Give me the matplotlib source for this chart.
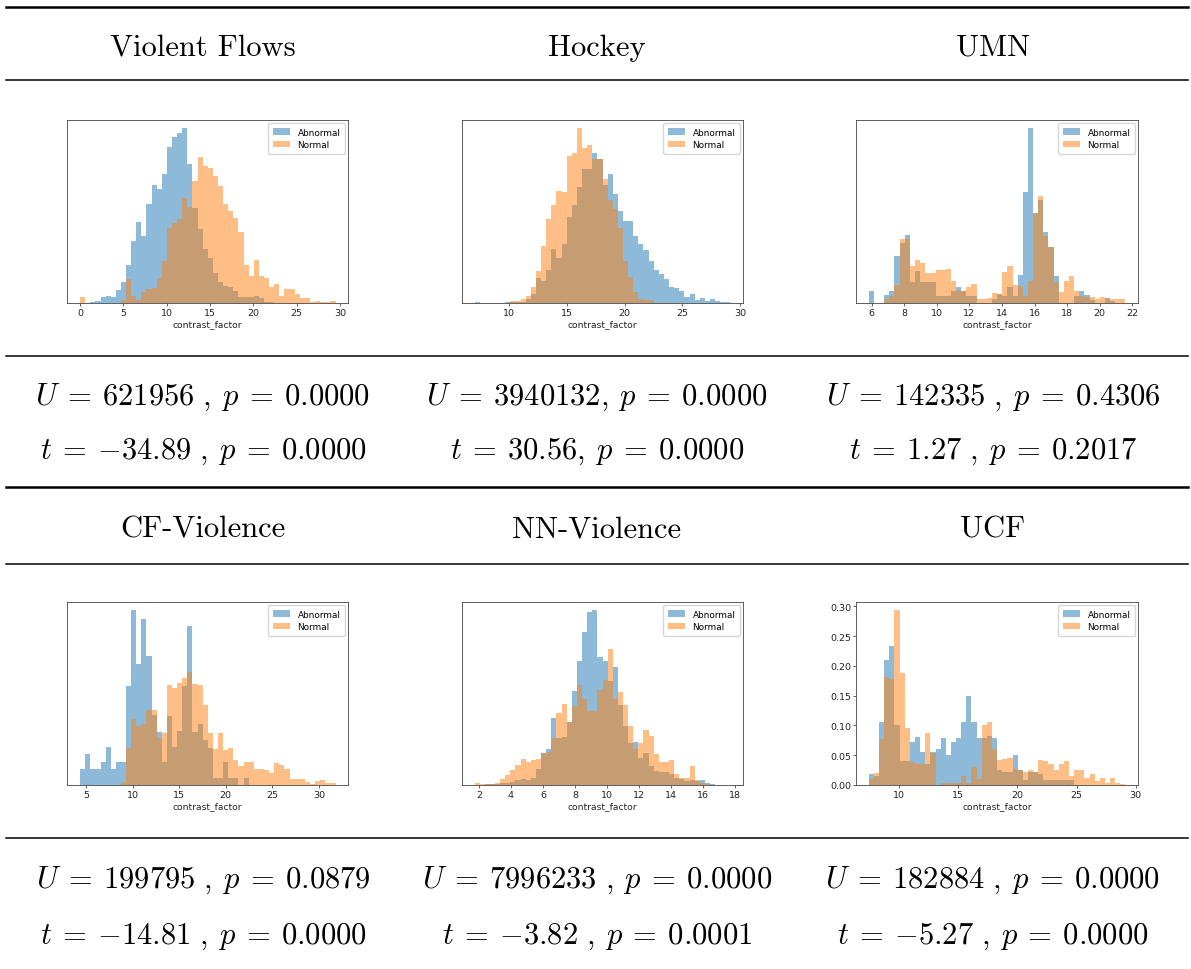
import numpy as np
import matplotlib
matplotlib.use("Agg")
import matplotlib.pyplot as plt
from matplotlib.lines import Line2D
from matplotlib.ticker import MultipleLocator, FormatStrFormatter

plt.rcParams['mathtext.fontset'] = 'cm'

# ---------------- data ----------------
titles = ["Violent Flows", "Hockey", "UMN", "CF-Violence", "NN-Violence", "UCF"]

stats_U = [r"$U\:=\:621956\ ,\:p\:=\:0.0000$",
           r"$U\:=\:3940132,\:p\:=\:0.0000$",
           r"$U\:=\:142335\ ,\:p\:=\:0.4306$",
           r"$U\:=\:199795\ ,\:p\:=\:0.0879$",
           r"$U\:=\:7996233\ ,\:p\:=\:0.0000$",
           r"$U\:=\:182884\ ,\:p\:=\:0.0000$"]
stats_t = [r"$t\:=\:{-}34.89\ ,\:p\:=\:0.0000$",
           r"$t\:=\:30.56,\:p\:=\:0.0000$",
           r"$t\:=\:1.27\ ,\:p\:=\:0.2017$",
           r"$t\:=\:{-}14.81\ ,\:p\:=\:0.0000$",
           r"$t\:=\:{-}3.82\ ,\:p\:=\:0.0001$",
           r"$t\:=\:{-}5.27\ ,\:p\:=\:0.0000$"]

# histogram bin ranges (contrast_factor), 50 bins each
vf_range = (0.0, 29.5)
hockey_range = (7.0, 29.18)
umn_range = (5.83, 21.58)
cf_range = (4.37, 31.78)
nn_range = (1.72, 17.72)
ucf_range = (7.48, 29.13)

vf_abnormal = [0, 0, 2, 5, 17, 22, 19, 39, 62, 115, 185, 244, 200, 299, 355, 342, 387, 470, 500, 512,
               525, 417, 285, 222, 162, 135, 89, 62, 52, 47, 37, 17, 19, 19, 22, 14, 4, 3, 0, 0,
               0, 0, 0, 0, 0, 0, 0, 0, 0, 0]
vf_normal = [17, 0, 0, 0, 0, 0, 0, 0, 10, 72, 20, 8, 32, 42, 45, 74, 125, 227, 242, 252,
             315, 290, 367, 439, 412, 407, 382, 352, 299, 277, 257, 215, 115, 82, 129, 82, 75, 49, 57, 20,
             42, 42, 27, 14, 14, 2, 5, 4, 2, 5]

hockey_abnormal = [4, 0, 0, 0, 0, 0, 2, 4, 2, 4, 12, 27, 75, 65, 99, 162, 135, 177, 259, 295,
                   349, 402, 402, 452, 432, 355, 389, 327, 277, 247, 247, 202, 177, 160, 125, 100, 87, 72, 49, 45,
                   37, 17, 26, 9, 15, 7, 12, 7, 2, 4]
hockey_normal = [0, 0, 0, 0, 0, 0, 0, 5, 7, 12, 22, 49, 97, 172, 252, 295, 337, 335, 442, 452,
                 525, 467, 475, 434, 432, 372, 309, 282, 227, 127, 77, 32, 12, 9, 9, 0, 0, 0, 0, 0,
                 0, 0, 0, 0, 0, 0, 0, 0, 0, 0]

umn_abnormal = [37, 0, 0, 24, 37, 142, 180, 205, 62, 97, 62, 62, 62, 22, 22, 22, 37, 49, 35, 22,
                22, 0, 0, 0, 12, 27, 22, 47, 22, 85, 335, 525, 270, 309, 215, 167, 82, 0, 0, 0,
                22, 37, 24, 10, 0, 0, 14, 7, 0, 0]
umn_normal = [0, 0, 0, 12, 22, 55, 192, 192, 112, 130, 119, 89, 89, 100, 100, 102, 67, 39, 37, 49,
              57, 12, 12, 15, 30, 27, 92, 110, 55, 52, 22, 67, 272, 322, 202, 167, 62, 32, 65, 80,
              37, 22, 17, 17, 12, 19, 12, 12, 12, 12]

cf_abnormal = [47, 92, 47, 47, 70, 114, 47, 70, 70, 297, 525, 365, 499, 387, 212, 159, 70, 207, 115, 162,
               297, 477, 159, 182, 135, 112, 22, 22, 70, 22, 22, 0, 22, 0, 0, 0, 0, 0, 0, 0,
               0, 0, 0, 0, 0, 0, 0, 0, 0, 0]
cf_normal = [0, 0, 0, 0, 0, 0, 0, 0, 10, 112, 199, 177, 182, 227, 227, 142, 157, 302, 292, 307,
             322, 339, 304, 302, 242, 157, 107, 157, 105, 112, 75, 57, 70, 70, 47, 49, 45, 37, 67, 59,
             47, 19, 17, 19, 9, 2, 12, 14, 7, 5]

nn_abnormal = [0, 0, 2, 2, 3, 5, 5, 10, 15, 17, 15, 22, 47, 95, 109, 200, 140, 145, 187, 280,
               372, 457, 517, 522, 384, 372, 310, 354, 240, 177, 127, 129, 82, 95, 57, 42, 40, 40, 32, 22,
               17, 12, 15, 12, 15, 5, 2, 0, 0, 0]
nn_normal = [5, 2, 3, 3, 5, 17, 30, 45, 59, 79, 70, 75, 77, 95, 100, 140, 215, 242, 187, 237,
             300, 257, 222, 222, 283, 313, 407, 257, 277, 239, 177, 107, 127, 165, 147, 92, 70, 70, 75, 32,
             22, 22, 57, 15, 5, 2, 1, 1, 0, 0]

ucf_abnormal = [0.018, 0.015, 0.105, 0.210, 0.233, 0.100, 0.040, 0.040, 0.073, 0.081,
                0.056, 0.036, 0.056, 0.061, 0.079, 0.050, 0.073, 0.079, 0.106, 0.150,
                0.106, 0.079, 0.079, 0.083, 0.079, 0.026, 0.022, 0.022, 0.050, 0.026,
                0.008, 0.022, 0.022, 0.018, 0.008, 0.008, 0.008, 0.008, 0.008, 0.008,
                0, 0, 0, 0, 0, 0, 0, 0, 0, 0]
ucf_normal = [0.010, 0.020, 0.078, 0.182, 0.178, 0.293, 0.188, 0.095, 0.038, 0.036,
              0.036, 0.088, 0.054, 0.0, 0.004, 0.004, 0.004, 0.004, 0.015, 0.004,
              0.030, 0.010, 0.100, 0.106, 0.060, 0.042, 0.044, 0.045, 0.027, 0.026,
              0.022, 0.026, 0.022, 0.042, 0.040, 0.035, 0.026, 0.035, 0.040, 0.015,
              0.025, 0.025, 0.012, 0.018, 0.007, 0.011, 0.004, 0.012, 0.003, 0.002]

ranges = [vf_range, hockey_range, umn_range, cf_range, nn_range, ucf_range]
abnormal = [vf_abnormal, hockey_abnormal, umn_abnormal, cf_abnormal, nn_abnormal, ucf_abnormal]
normal = [vf_normal, hockey_normal, umn_normal, cf_normal, nn_normal, ucf_normal]
tick_steps = [5, 5, 2, 5, 2, 5]
show_yticks = [False, False, False, False, False, True]

# ---------------- layout ----------------
W, H = 1191, 970
fig = plt.figure(figsize=(W / 100, H / 100), dpi=100)

def fx(x):
    return x / W

def fy(y):
    return 1 - y / H

# table rules
rules = [(7.5, 1.8), (81, 1.1), (356.5, 1.1), (488, 1.8), (564.5, 1.1), (839, 1.1)]
for y, lw in rules:
    fig.add_artist(Line2D([fx(6), fx(1188)], [fy(y), fy(y)], color='black', lw=lw))

col_x = [203, 597, 993]
title_y = [48, 530]
stat_y = [(397, 452), (880, 937)]
ax_left = [67.3, 461.7, 856]
ax_right = [348.3, 743.3, 1138.3]
ax_top = [120.7, 602.7]
ax_bot = [304, 786]

for i in range(6):
    r, c = divmod(i, 3)
    fig.text(fx(col_x[c]), fy(title_y[r]), titles[i], ha='center', va='center',
             fontsize=22, family='cmr10')
    fig.text(fx(col_x[c]), fy(stat_y[r][0]), stats_U[i], ha='center', va='center', fontsize=22)
    fig.text(fx(col_x[c]), fy(stat_y[r][1]), stats_t[i], ha='center', va='center', fontsize=22)

    l, rr = ax_left[c], ax_right[c]
    t, b = ax_top[r], ax_bot[r]
    ax = fig.add_axes([fx(l), fy(b), (rr - l) / W, (b - t) / H])
    lo, hi = ranges[i]
    edges = np.linspace(lo, hi, len(abnormal[i]) + 1)
    widths = np.diff(edges)
    ax.bar(edges[:-1], abnormal[i], width=widths, align='edge', color='C0', alpha=0.5,
           linewidth=0, label='Abnormal')
    ax.bar(edges[:-1], normal[i], width=widths, align='edge', color='C1', alpha=0.5,
           linewidth=0, label='Normal')
    ax.xaxis.set_major_locator(MultipleLocator(tick_steps[i]))
    if not show_yticks[i]:
        ax.set_yticks([])
    else:
        ax.yaxis.set_major_locator(MultipleLocator(0.05))
        ax.yaxis.set_major_formatter(FormatStrFormatter('%.2f'))
    ax.tick_params(labelsize=6.8, length=2, width=0.5, pad=1.5, colors='#222')
    ax.set_xlabel('contrast_factor', fontsize=6.6, labelpad=1.5, color='#222')
    for s in ax.spines.values():
        s.set_linewidth(0.6)
        s.set_color('#444')
    ax.legend(loc='upper right', fontsize=6.4, borderpad=0.5, handlelength=2.0,
              handleheight=0.7, labelspacing=0.4, frameon=True, fancybox=True,
              borderaxespad=0.4)

fig.savefig('out.png', dpi=100)
